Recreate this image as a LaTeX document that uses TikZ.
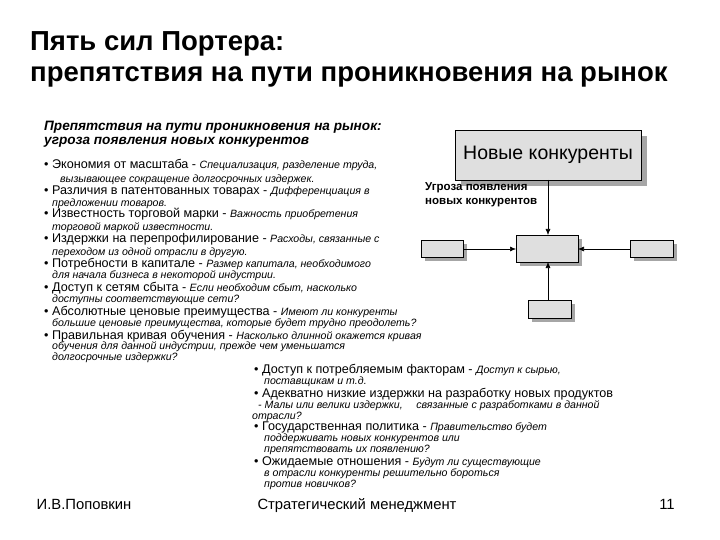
\documentclass[tikz,border=0pt]{standalone}
\usepackage{fontspec}
\setmainfont{Liberation Sans}
\usetikzlibrary{arrows.meta}
\newcommand{\di}[1]{{\fontsize{10.6}{12}\selectfont\itshape #1}}
\begin{document}
\begin{tikzpicture}[x=1pt,y=-1pt,
  ttl/.style={anchor=base west,inner sep=0,font=\fontsize{27.5}{30}\selectfont\bfseries},
  hd/.style={anchor=base west,inner sep=0,font=\fontsize{13.6}{15}\selectfont\bfseries\itshape},
  it/.style={anchor=base west,inner sep=0,font=\fontsize{10.6}{12}\selectfont\itshape},
  bl/.style={anchor=base west,inner sep=0,font=\fontsize{12.6}{14}\selectfont},
  box/.style={draw=black,line width=0.8pt,fill=gray!25},
  shd/.style={fill=gray!70,draw=none},
  arr/.style={-{Latex[length=6pt,width=5pt]},line width=0.6pt},
  ft/.style={anchor=base,inner sep=0,font=\fontsize{14.8}{16}\selectfont}]
\useasboundingbox (0,0) rectangle (720,540);
\node[ttl] (t1) at (30,51) {Пять сил Портера:};
\node[ttl] (t2) at (30,82) {препятствия на пути проникновения на рынок};
\node[hd] (h1) at (44,131) {Препятствия на пути проникновения на рынок:};
\node[hd] (h2) at (44,145) {угроза появления новых конкурентов};
\newcommand{\bul}[4]{\node[bl] (b#1) at (#2,#3) {\textbullet\ #4};}
\bul{1}{44}{169}{Экономия от масштаба - \di{Специализация, разделение труда,}}
\node[it] (d1) at (60,183) {вызывающее сокращение долгосрочных издержек.};
\bul{2}{44}{195}{Различия в патентованных товарах - \di{Дифференциация в}}
\node[it] (d2) at (52,207) {предложении товаров.};
\bul{3}{44}{218}{Известность торговой марки - \di{Важность приобретения}}
\node[it] (d3) at (52,230) {торговой маркой известности.};
\bul{4}{44}{243}{Издержки на перепрофилирование - \di{Расходы, связанные с}}
\node[it] (d4) at (52,255) {переходом из одной отрасли в другую.};
\bul{5}{44}{267}{Потребности в капитале - \di{Размер капитала, необходимого}}
\node[it] (d5) at (52,278) {для начала бизнеса в некоторой индустрии.};
\bul{6}{44}{291}{Доступ к сетям сбыта - \di{Если необходим сбыт, насколько}}
\node[it] (d6) at (52,302) {доступны соответствующие сети?};
\bul{7}{44}{315}{Абсолютные ценовые преимущества - \di{Имеют ли конкуренты}}
\node[it] (d7) at (52,326) {большие ценовые преимущества, которые будет трудно преодолеть?};
\bul{8}{44}{339}{Правильная кривая обучения - \di{Насколько длинной окажется кривая}}
\node[it] (d8a) at (52,349) {обучения для данной индустрии, прежде чем уменьшатся};
\node[it] (d8b) at (52,360) {долгосрочные издержки?};
\bul{9}{254}{373}{Доступ к потребляемым факторам - \di{Доступ к сырью,}}
\node[it] (d9) at (264,384) {поставщикам и т.д.};
\bul{10}{254}{397}{Адекватно низкие издержки на разработку новых продуктов};
\node[it] (d10a) at (258,408) {- Малы или велики издержки, \quad связанные с разработками в данной};
\node[it] (d10b) at (252,419) {отрасли?};
\bul{11}{254}{430}{Государственная политика - \di{Правительство будет}}
\node[it] (d11a) at (264,441) {поддерживать новых конкурентов или};
\node[it] (d11b) at (264,452) {препятствовать их появлению?};
\bul{12}{254}{465}{Ожидаемые отношения - \di{Будут ли существующие}}
\node[it] (d12a) at (264,476) {в отрасли конкуренты решительно бороться};
\node[it] (d12b) at (264,487) {против новичков?};
% diagram
\fill[shd] (461,136) rectangle (647,186);
\draw[box] (455,130) rectangle (641,180);
\node[font=\fontsize{19.5}{21}\selectfont] (nk) at (548,155) {Новые конкуренты};
\coordinate (nkb) at (548,180);
\fill[shd] (520,239) rectangle (582,266);
\draw[box] (516,235) rectangle (578,262);
\coordinate (cT) at (548,235); \coordinate (cB) at (548,262);
\coordinate (cL) at (516,249); \coordinate (cR) at (578,249);
\fill[shd] (425,244) rectangle (467,261);
\draw[box] (421,240) rectangle (463,257);
\coordinate (lR) at (463,249);
\fill[shd] (634,244) rectangle (677,261);
\draw[box] (630,240) rectangle (673,257);
\coordinate (rL) at (630,249);
\fill[shd] (532,304) rectangle (575,322);
\draw[box] (528,300) rectangle (571,318);
\coordinate (bT) at (548,300);
\draw[arr] (nkb) -- (cT);
\draw[arr] (lR) -- (cL);
\draw[arr] (rL) -- (cR);
\draw[arr] (bT) -- (cB);
\node[anchor=base west,inner sep=0,font=\fontsize{11.5}{14}\selectfont\bfseries,align=left] (ug) at (425,205) {Угроза появления\\новых конкурентов};
% footer
\node[ft] (f1) at (84,509) {И.В.Поповкин};
\node[ft] (f2) at (357,509) {Стратегический менеджмент};
\node[ft] (f3) at (667,509) {11};
\end{tikzpicture}
\end{document}
